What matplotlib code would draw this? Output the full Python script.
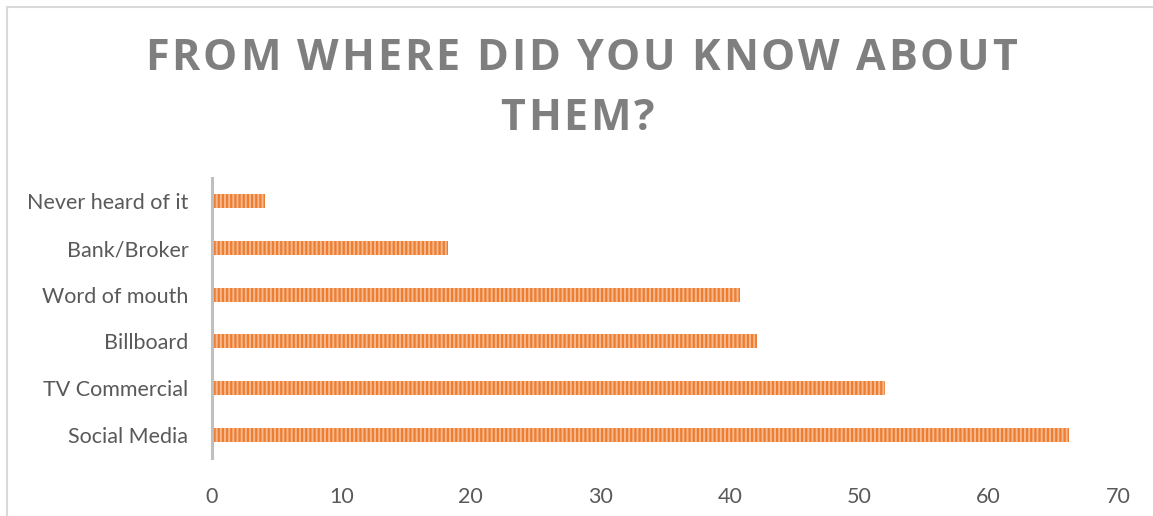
import matplotlib
import numpy as np

matplotlib.use("Agg")
import matplotlib.pyplot as plt
from matplotlib.patches import Rectangle

categories = ["Social Media", "TV Commercial", "Billboard", "Word of mouth", "Bank/Broker", "Never heard of it"]
counts = [66.2, 52, 42.1, 40.8, 18.2, 4.1]
x_ticks = [0, 10, 20, 30, 40, 50, 60, 70]
title_lines = ["FROM WHERE DID YOU KNOW ABOUT", "THEM?"]

TEXT_GRAY = "#595959"
TITLE_GRAY = "#7f7f7f"
BAR_LIGHT = "#f6b98e"
BAR_DARK = "#ed7d31"

plt.rcParams["font.family"] = ["Lato", "DejaVu Sans"]
plt.rcParams["hatch.linewidth"] = 1.6

W, H = 1153, 516


def tracked_text(figure, line, center_x, center_y, tracking, **text_kwargs):
    # draw one line char by char so the letter spacing can be widened
    renderer = figure.canvas.get_renderer()

    def width(s):
        probe = figure.text(0, 0, s, **text_kwargs)
        w = probe.get_window_extent(renderer).width
        probe.remove()
        return w

    ref_w = width("H")
    total = width(line) + tracking * (len(line) - 1)
    x0 = center_x - total / 2
    for i, ch in enumerate(line):
        if ch == " ":
            continue
        left = width(line[:i] + "H") - ref_w if i else 0
        figure.text((x0 + left + i * tracking) / W, 1 - center_y / H, ch,
                    ha="left", va="center", **text_kwargs)


figure = plt.figure(figsize=(W / 100, H / 100), dpi=100)
figure.patches.append(
    Rectangle((7 / W, -0.05), 1.1, 1 - 7 / H + 0.05, transform=figure.transFigure,
              fill=False, edgecolor="#d9d9d9", linewidth=1.5)
)

axis = figure.add_axes([212 / W, 1 - 458 / H, (1118 - 212) / W, (458 - 178) / H])
y_pos = np.arange(len(categories))
axis.barh(y_pos, counts, height=0.3, color=BAR_LIGHT, edgecolor=BAR_DARK,
          linewidth=0, hatch="||||")

axis.set_xlim(0, 70)
axis.set_ylim(-0.5, len(categories) - 0.5)
axis.set_xticks(x_ticks)
axis.set_yticks(y_pos)
axis.set_yticklabels(categories)
axis.tick_params(axis="both", length=0, labelsize=15.5, colors=TEXT_GRAY)
axis.tick_params(axis="x", pad=21)
axis.tick_params(axis="y", pad=17)
for side in ("top", "right", "bottom"):
    axis.spines[side].set_visible(False)
axis.spines["left"].set_color("#bfbfbf")
axis.spines["left"].set_linewidth(2.2)

title_style = dict(fontsize=31, fontweight="bold", color=TITLE_GRAY,
                   family=["Open Sans", "DejaVu Sans"])
tracked_text(figure, title_lines[0], 581, 58, 2.8, **title_style)
tracked_text(figure, title_lines[1], 577, 118, 2.8, **title_style)

figure.savefig("out.png", dpi=100)
plt.close(figure)
